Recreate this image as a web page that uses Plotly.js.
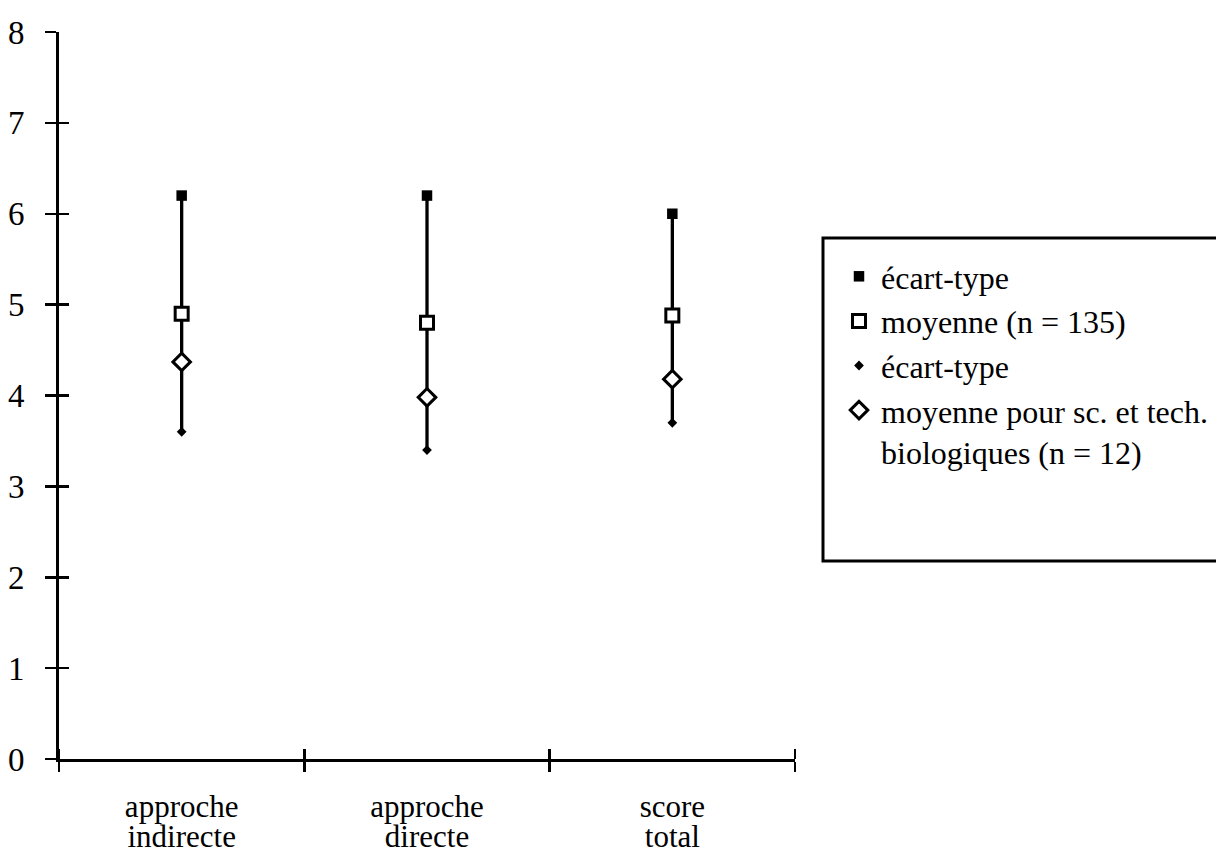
<!DOCTYPE html>
<html>
<head>
<meta charset="utf-8">
<script src="https://cdn.plot.ly/plotly-3.0.1.min.js"></script>
<style>html,body{margin:0;padding:0;background:#fff;}#chart{width:1216px;height:854px;}</style>
</head>
<body>
<div id="chart"></div>
<script>
// ---- data ----
const categories = ['approche indirecte', 'approche directe', 'score total'];
const ecartTypeHaut = [6.2, 6.2, 6.0];        // écart-type (filled square)
const moyenneTotal = [4.9, 4.8, 4.88];        // moyenne (n = 135)
const moyenneBio = [4.37, 3.98, 4.18];        // moyenne pour sc. et tech. biologiques (n = 12)
const ecartTypeBas = [3.6, 3.4, 3.7];         // écart-type (small diamond)
const yTickVals = [0, 1, 2, 3, 4, 5, 6, 7, 8];
const yTickText = ['0', '1', '2', '3', '4', '5', '6', '7', '8'];
const legendNames = ['écart-type', 'moyenne (n = 135)', 'écart-type', 'moyenne pour sc. et tech.<br>biologiques (n = 12)'];

const FONT = 'Liberation Serif, Times New Roman, Times, serif';
const xIdx = categories.map((c, i) => i);
const line1 = categories.map(c => c.split(' ')[0]);
const line2 = categories.map(c => c.split(' ').slice(1).join(' '));
const bounds = categories.map((c, i) => i - 0.5).concat([categories.length - 0.5]);
const xRange = [-0.5, categories.length - 0.5];

const traces = [
  { // vertical range line, drawn first so markers sit on top
    x: xIdx, y: moyenneTotal, type: 'scatter', mode: 'markers',
    marker: {size: 1, color: 'rgba(0,0,0,0)'},
    error_y: {type: 'data', symmetric: false,
      array: ecartTypeHaut.map((v, i) => v - moyenneTotal[i]),
      arrayminus: moyenneTotal.map((v, i) => v - ecartTypeBas[i]),
      thickness: 3.3, width: 0, color: '#000'},
    showlegend: false, hoverinfo: 'skip'
  },
  {x: xIdx, y: ecartTypeHaut, name: legendNames[0], type: 'scatter', mode: 'markers',
   marker: {symbol: 'square', size: 10.5, color: '#000', line: {width: 0}}},
  {x: xIdx, y: moyenneTotal, name: legendNames[1], type: 'scatter', mode: 'markers',
   marker: {symbol: 'square', size: 13, color: '#fff', line: {width: 3, color: '#000'}}},
  {x: xIdx, y: ecartTypeBas, name: legendNames[2], type: 'scatter', mode: 'markers',
   marker: {symbol: 'diamond', size: 7.5, color: '#000', line: {width: 0}}},
  {x: xIdx, y: moyenneBio, name: legendNames[3], type: 'scatter', mode: 'markers',
   marker: {symbol: 'diamond', size: 13.5, color: '#fff', line: {width: 3, color: '#000'}}},
  {x: [], y: [], xaxis: 'x2', yaxis: 'y2', type: 'scatter', mode: 'markers',
   showlegend: false, hoverinfo: 'skip'}
];

const L = 59, R = 421, T = 32, B = 95, W = 1216, H = 854;
const pw = W - L - R, ph = H - T - B;
const px = v => (v - L) / pw;
const py = v => (H - B - v) / ph;

const layout = {
  width: W, height: H,
  margin: {l: L, r: R, t: T, b: B, autoexpand: false},
  paper_bgcolor: '#fff', plot_bgcolor: '#fff',
  font: {family: FONT, size: 31, color: '#000'},
  showlegend: true,
  xaxis: {
    type: 'linear', range: xRange, showgrid: false, zeroline: false,
    showline: true, linewidth: 3, linecolor: '#000',
    tickmode: 'array', tickvals: xIdx, ticktext: line1, ticks: '',
    ticklabelstandoff: 18,
    tickfont: {family: FONT, size: 31, color: '#000'},
    minor: {tickmode: 'array', tickvals: bounds, ticks: 'outside', ticklen: 10, tickwidth: 2.5, tickcolor: '#000', showgrid: false}
  },
  xaxis2: {
    type: 'linear', range: xRange, overlaying: 'x', anchor: 'y2', side: 'bottom',
    showgrid: false, zeroline: false, showline: false,
    tickmode: 'array', tickvals: xIdx, ticktext: line2, ticks: '',
    ticklabelstandoff: 56,
    tickfont: {family: FONT, size: 31, color: '#000'},
    minor: {tickmode: 'array', tickvals: bounds, ticks: 'inside', ticklen: 10, tickwidth: 2.5, tickcolor: '#000', showgrid: false}
  },
  yaxis: {
    range: [0, 8], showgrid: false, zeroline: false,
    showline: true, linewidth: 3, linecolor: '#000',
    tickmode: 'array', tickvals: yTickVals, ticktext: yTickText,
    ticks: 'outside', ticklen: 11, tickwidth: 2.5, tickcolor: '#000',
    ticklabelstandoff: 14,
    tickfont: {family: FONT, size: 33, color: '#000'}
  },
  yaxis2: {
    range: [0, 8], overlaying: 'y', anchor: 'x2', side: 'left',
    showgrid: false, zeroline: false, showline: false, showticklabels: false,
    tickmode: 'array', tickvals: yTickVals,
    ticks: 'inside', ticklen: 10, tickwidth: 2.5, tickcolor: '#000'
  },
  legend: {
    x: px(837), y: py(249), xanchor: 'left', yanchor: 'top',
    bgcolor: 'rgba(0,0,0,0)', borderwidth: 0,
    font: {family: FONT, size: 32, color: '#000'},
    valign: 'top', tracegroupgap: 0, itemclick: false, itemwidth: 34
  },
  shapes: [{
    type: 'rect', xref: 'paper', yref: 'paper',
    x0: px(823), x1: px(1240), y0: py(561), y1: py(238),
    line: {color: '#000', width: 3}, fillcolor: 'rgba(0,0,0,0)'
  }]
};

Plotly.newPlot('chart', traces, layout, {displayModeBar: false, staticPlot: true});
</script>
</body>
</html>
